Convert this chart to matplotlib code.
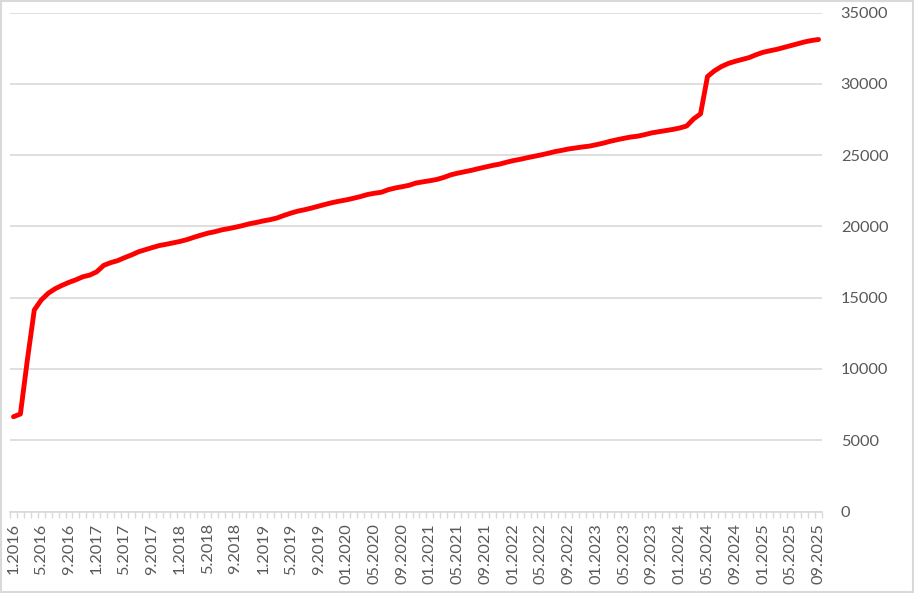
import matplotlib
matplotlib.use("Agg")
import matplotlib.pyplot as plt
from matplotlib.patches import Rectangle

# monthly values, 01.2016 .. 09.2025
values = [
    6650, 6840, 10630, 14140, 14840, 15310, 15630, 15870, 16080, 16260,
    16470, 16590, 16820, 17270, 17460, 17600, 17810, 18000, 18220, 18370,
    18520, 18660, 18750, 18850, 18950, 19080, 19240, 19390, 19530, 19630,
    19760, 19850, 19950, 20060, 20190, 20280, 20390, 20480, 20600, 20780,
    20940, 21080, 21180, 21300, 21430, 21560, 21680, 21780, 21870, 21980,
    22100, 22240, 22330, 22400, 22580, 22700, 22790, 22890, 23050, 23130,
    23210, 23300, 23440, 23620, 23740, 23840, 23940, 24060, 24170, 24280,
    24370, 24500, 24620, 24710, 24820, 24920, 25020, 25130, 25250, 25340,
    25440, 25510, 25580, 25640, 25740, 25850, 25980, 26090, 26190, 26280,
    26340, 26450, 26570, 26650, 26730, 26810, 26910, 27050, 27550, 27900,
    30520, 30920, 31220, 31440, 31590, 31720, 31850, 32050, 32220, 32330,
    32430, 32560, 32690, 32820, 32950, 33050, 33120,
]

months = []
for year in range(2016, 2026):
    for m in range(1, 13):
        if year < 2020:
            months.append(f"{m}.{year}")
        else:
            months.append(f"{m:02d}.{year}")
months = months[:len(values)]

plt.rcParams['font.family'] = ['Lato', 'DejaVu Sans']

fig = plt.figure(figsize=(9.14, 5.93), dpi=100)
ax = fig.add_axes([10 / 914, 1 - 511.5 / 593, 812 / 914, (511.5 - 12.7) / 593])

x = list(range(len(values)))
ax.plot(x, values, color='#FF0000', linewidth=3.5,
        solid_capstyle='round', solid_joinstyle='round', zorder=3)

ax.set_xlim(-0.5, len(values) - 0.5)
ax.set_ylim(0, 35000)

ax.set_yticks(range(0, 35001, 5000))
ax.yaxis.tick_right()
ax.tick_params(axis='y', length=0, pad=13.5, labelsize=11.8, labelcolor='#595959')
ax.grid(axis='y', color='#d9d9d9', linewidth=1.2, zorder=0)

ax.set_xticks(x[::4])
ax.set_xticklabels(months[::4], rotation=90)
ax.set_xticks([i - 0.5 for i in range(len(values) + 1)], minor=True)
ax.tick_params(axis='x', which='major', length=0, pad=8.5, labelsize=11.8,
               labelcolor='#595959')
ax.tick_params(axis='x', which='minor', length=4, width=1, color='#d9d9d9')

for side in ['top', 'left', 'right']:
    ax.spines[side].set_visible(False)
ax.spines['bottom'].set_color('#d9d9d9')
ax.spines['bottom'].set_linewidth(1.2)

fig.patches.append(Rectangle((0.001, 0.001), 0.998, 0.997, transform=fig.transFigure,
                             fill=False, edgecolor='#d9d9d9', linewidth=1.5))

fig.savefig('out.png', dpi=100)
